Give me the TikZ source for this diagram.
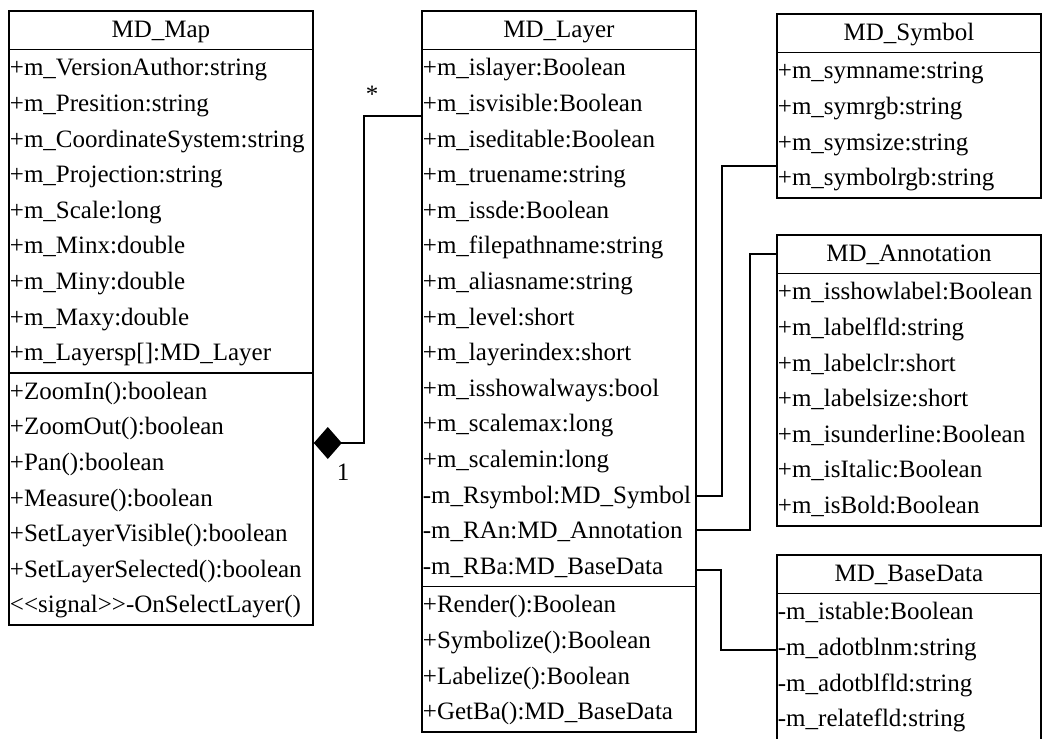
\documentclass[tikz,border=0pt]{standalone}
\usepackage{fontspec}
\setmainfont{Liberation Serif}
\usetikzlibrary{arrows.meta,shapes.multipart}

\tikzset{
    umlclass/.style={draw, line width=1.8pt, rectangle split, rectangle split parts=3,
        rectangle split part align={center,left,left}, align=left, anchor=north west,
        inner xsep=1pt, inner ysep=0.6pt, font=\fontsize{25}{35.6}\selectfont},
    umlrecord/.style={umlclass, rectangle split parts=2},
    assoc/.style={line width=1.8pt},
    mult/.style={font=\fontsize{25}{30}\selectfont, inner sep=0pt}
}

\begin{document}
\begin{tikzpicture}[x=1pt, y=-1pt]
    \useasboundingbox (0,0) rectangle (1048,738);

    \node[umlclass, minimum width=304pt] (map) at (8,10) {\strut MD\_Map
        \nodepart{second}\strut +m\_VersionAuthor:string\\ \strut +m\_Presition:string\\
        \strut +m\_CoordinateSystem:string\\ \strut +m\_Projection:string\\
        \strut +m\_Scale:long\\ \strut +m\_Minx:double\\ \strut +m\_Miny:double\\
        \strut +m\_Maxy:double\\ \strut +m\_Layersp[]:MD\_Layer
        \nodepart{third}\strut +ZoomIn():boolean\\ \strut +ZoomOut():boolean\\
        \strut +Pan():boolean\\ \strut +Measure():boolean\\
        \strut +SetLayerVisible():boolean\\ \strut +SetLayerSelected():boolean\\
        \strut <\kern0pt<signal>\kern0pt>-OnSelectLayer()};

    \node[umlclass, minimum width=274pt] (layer) at (421,10) {\strut MD\_Layer
        \nodepart{second}\strut +m\_islayer:Boolean\\ \strut +m\_isvisible:Boolean\\
        \strut +m\_iseditable:Boolean\\ \strut +m\_truename:string\\
        \strut +m\_issde:Boolean\\ \strut +m\_filepathname:string\\
        \strut +m\_aliasname:string\\ \strut +m\_level:short\\
        \strut +m\_layerindex:short\\ \strut +m\_isshowalways:bool\\
        \strut +m\_scalemax:long\\ \strut +m\_scalemin:long\\
        \strut -m\_Rsymbol:MD\_Symbol\\ \strut -m\_RAn:MD\_Annotation\\
        \strut -m\_RBa:MD\_BaseData
        \nodepart{third}\strut +Render():Boolean\\ \strut +Symbolize():Boolean\\
        \strut +Labelize():Boolean\\ \strut +GetBa():MD\_BaseData};

    \node[umlrecord, minimum width=264pt] (sym) at (776,13) {\strut MD\_Symbol
        \nodepart{second}\strut +m\_symname:string\\ \strut +m\_symrgb:string\\
        \strut +m\_symsize:string\\ \strut +m\_symbolrgb:string};

    \node[umlrecord, minimum width=264pt] (ann) at (776,234) {\strut MD\_Annotation
        \nodepart{second}\strut +m\_isshowlabel:Boolean\\ \strut +m\_labelfld:string\\
        \strut +m\_labelclr:short\\ \strut +m\_labelsize:short\\
        \strut +m\_isunderline:Boolean\\ \strut +m\_isItalic:Boolean\\
        \strut +m\_isBold:Boolean};

    \node[umlrecord, minimum width=264pt] (base) at (776,554) {\strut MD\_BaseData
        \nodepart{second}\strut -m\_istable:Boolean\\ \strut -m\_adotblnm:string\\
        \strut -m\_adotblfld:string\\ \strut -m\_relatefld:string\rule[-20pt]{0pt}{0pt}};

    % bends of the connectors
    \coordinate (aggtop) at (364,116);
    \coordinate (aggbot) at (364,443);
    \coordinate (symtop) at (722,166);
    \coordinate (symbot) at (722,496);
    \coordinate (anntop) at (750,254);
    \coordinate (annbot) at (750,530);
    \coordinate (basetop) at (721,570);
    \coordinate (basebot) at (721,650);

    \draw[assoc, -{Diamond[length=28pt, width=32pt]}]
        (layer.west |- aggtop) -- (aggtop) -- (aggbot) -- (map.east |- aggbot);
    \node[mult] (many) at (372,94) {*};
    \node[mult] (one) at (343,472) {1};

    \draw[assoc] (layer.east |- symbot) -- (symbot) -- (symtop) -- (sym.west |- symtop);
    \draw[assoc] (layer.east |- annbot) -- (annbot) -- (anntop) -- (ann.west |- anntop);
    \draw[assoc] (layer.east |- basetop) -- (basetop) -- (basebot) -- (base.west |- basebot);
\end{tikzpicture}
\end{document}
